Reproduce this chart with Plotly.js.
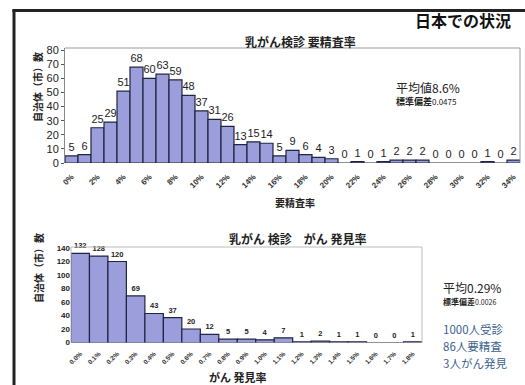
<!DOCTYPE html>
<html>
<head>
<meta charset="utf-8">
<script src="https://cdn.plot.ly/plotly-3.0.1.min.js"></script>
<style>
html,body{margin:0;padding:0;background:#fff;}
#chart{width:525px;height:385px;}
</style>
</head>
<body>
<div id="chart"></div>
<script>
// ---- data ----
const recallCats = ["0%","1%","2%","3%","4%","5%","6%","7%","8%","9%","10%","11%","12%","13%","14%","15%","16%","17%","18%","19%","20%","21%","22%","23%","24%","25%","26%","27%","28%","29%","30%","31%","32%","33%","34%"];
const recallCounts = [5,6,25,29,51,68,60,63,59,48,37,31,26,13,15,14,5,9,6,4,3,0,1,0,1,2,2,2,0,0,0,0,1,0,2];
const recallTicks = ["0%","2%","4%","6%","8%","10%","12%","14%","16%","18%","20%","22%","24%","26%","28%","30%","32%","34%"];

const detectCats = ["0.0%","0.1%","0.2%","0.3%","0.4%","0.5%","0.6%","0.7%","0.8%","0.9%","1.0%","1.1%","1.2%","1.3%","1.4%","1.5%","1.6%","1.7%","1.8%"];
const detectCounts = [132,128,120,69,43,37,20,12,5,5,4,7,1,2,1,1,0,0,1];

const summaryLines = ["1000人受診", "86人要精査", "3人がん発見"];

const W = 525, H = 385;
const px = x => x / W;
const py = y => 1 - y / H;

const barColor = "#9c9edc";
const barLine = "#1e2540";
const cjk = "'Noto Sans CJK JP', 'Noto Sans', sans-serif";
const sans = "'Liberation Sans', Arial, sans-serif";

const topLabelFont = {family: sans, size: 11, color: "#222"};
const botLabelFont = {family: sans, size: 7.5, color: "#222", weight: "bold"};

const traces = [
  {
    type: "bar", x: recallCats, y: recallCounts, xaxis: "x", yaxis: "y",
    marker: {color: barColor, line: {color: barLine, width: 1.2}},
    text: recallCounts.map(String), textposition: "outside",
    textfont: topLabelFont, outsidetextfont: topLabelFont,
    cliponaxis: false, hoverinfo: "skip"
  },
  {
    type: "bar", x: detectCats, y: detectCounts, xaxis: "x2", yaxis: "y2",
    marker: {color: barColor, line: {color: barLine, width: 1.2}},
    text: detectCounts.map(String), textposition: "outside",
    textfont: botLabelFont, outsidetextfont: botLabelFont,
    cliponaxis: false, hoverinfo: "skip"
  }
];

const annos = [
  {text: "<b>日本での状況</b>", x: 512, y: 20, xanchor: "right", size: 16, color: "#111"},
  {text: "<b>乳がん検診 要精査率</b>", x: 300, y: 41, xanchor: "center", size: 12},
  {text: "<b>自治体（市）数</b>", x: 38, y: 87, xanchor: "center", size: 10, angle: -90},
  {text: "<b>要精査率</b>", x: 295, y: 203, xanchor: "center", size: 10},
  {text: "平均値8.6%", x: 395, y: 88, xanchor: "left", size: 12},
  {text: "<b>標準偏差</b><span style='font-size:8px'>0.0475</span>", x: 395, y: 102, xanchor: "left", size: 9},
  {text: "<b>乳がん 検診　がん 発見率</b>", x: 297, y: 238, xanchor: "center", size: 12},
  {text: "<b>自治体（市）数</b>", x: 38, y: 268, xanchor: "center", size: 10, angle: -90},
  {text: "<b>がん 発見率</b>", x: 238, y: 377, xanchor: "center", size: 11},
  {text: "平均0.29%", x: 442, y: 287, xanchor: "left", size: 12},
  {text: "<b>標準偏差</b><span style='font-size:7px'>0.0026</span>", x: 442, y: 301, xanchor: "left", size: 8},
  {text: summaryLines[0], x: 442, y: 328.5, xanchor: "left", size: 11.5, color: "#3d5f8f"},
  {text: summaryLines[1], x: 442, y: 345.5, xanchor: "left", size: 11.5, color: "#3d5f8f"},
  {text: summaryLines[2], x: 442, y: 362.5, xanchor: "left", size: 11.5, color: "#3d5f8f"}
].map(a => ({
  text: a.text, xref: "paper", yref: "paper", x: px(a.x), y: py(a.y),
  xanchor: a.xanchor, yanchor: "middle", textangle: a.angle || 0, showarrow: false,
  borderpad: 0,
  font: {family: cjk, size: a.size, color: a.color || "#222"}
}));

const layout = {
  width: W, height: H,
  margin: {l: 0, r: 0, t: 0, b: 0},
  paper_bgcolor: "#fff", plot_bgcolor: "rgba(0,0,0,0)",
  showlegend: false, bargap: 0,
  xaxis: {
    domain: [px(65), px(520)], anchor: "y",
    type: "category", categoryorder: "array", categoryarray: recallCats,
    range: [-0.5, 34.5],
    tickmode: "array", tickvals: recallTicks, ticktext: recallTicks,
    tickangle: -45, ticks: "outside", ticklen: 5, tickcolor: "rgba(0,0,0,0)",
    tickfont: {family: sans, size: 8, color: "#333", weight: "bold"},
    showline: false, showgrid: false, zeroline: false
  },
  yaxis: {
    domain: [py(163), py(48)], anchor: "x",
    range: [0, 81.6], tickvals: [0,10,20,30,40,50,60,70,80],
    ticks: "outside", ticklen: 3, tickcolor: "#555",
    tickfont: {family: sans, size: 11, color: "#222"},
    showline: true, linecolor: "#888", linewidth: 1,
    showgrid: false, zeroline: false
  },
  xaxis2: {
    domain: [px(71), px(422)], anchor: "y2",
    type: "category", categoryorder: "array", categoryarray: detectCats,
    range: [-0.5, 18.5],
    tickangle: -45, ticks: "outside", ticklen: 4, tickcolor: "rgba(0,0,0,0)",
    tickfont: {family: sans, size: 6.5, color: "#333", weight: "bold"},
    showline: false, showgrid: false, zeroline: false
  },
  yaxis2: {
    domain: [py(342.5), py(247)], anchor: "x2",
    range: [0, 141.5], tickvals: [0,20,40,60,80,100,120,140],
    ticks: "",
    tickfont: {family: sans, size: 8, color: "#222", weight: "bold"},
    showline: false, showgrid: false, zeroline: false
  },
  shapes: [
    {type: "line", xref: "paper", yref: "paper", x0: px(14), x1: px(14), y0: 0, y1: py(9.5), line: {color: "#222", width: 3}},
    {type: "line", xref: "paper", yref: "paper", x0: px(12.5), x1: 1, y0: py(10.5), y1: py(10.5), line: {color: "#222", width: 3}},
    {type: "path", xref: "paper", yref: "paper",
     path: `M ${px(65)} ${py(48)} L ${px(520)} ${py(48)} L ${px(520)} ${py(163)}`,
     line: {color: "#999", width: 1}},
    {type: "path", xref: "paper", yref: "paper",
     path: `M ${px(71)} ${py(342.5)} L ${px(71)} ${py(247)} L ${px(422)} ${py(247)} L ${px(422)} ${py(342.5)}`,
     line: {color: "#bbb", width: 1}}
  ],
  annotations: annos
};

Plotly.newPlot("chart", traces, layout, {displayModeBar: false, staticPlot: true});
</script>
</body>
</html>
